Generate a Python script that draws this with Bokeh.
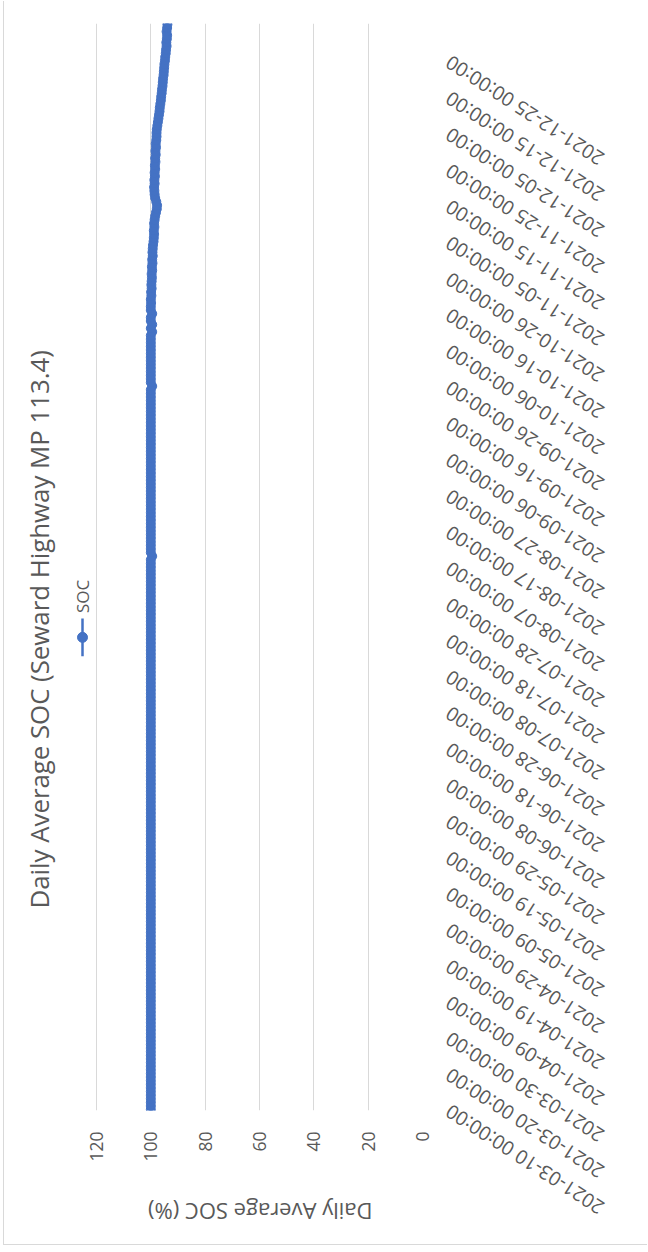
import math
import pandas as pd
from bokeh.plotting import figure
from bokeh.models import (Range1d, FixedTicker, DatetimeTickFormatter, Label,
                          LinearAxis)
from bokeh.embed import file_html
from bokeh.resources import INLINE

# ---------------- data ----------------
chart_title = "Daily Average SOC (Seward Highway MP 113.4)"
value_axis_title = "Daily Average SOC (%)"
series_name = "SOC"
first_day = "2021-03-10"

soc = [
    100, 100, 100, 100, 100, 100, 100, 100, 100, 100,
    100, 100, 100, 100, 100, 100, 100, 100, 100, 100,
    100, 100, 100, 100, 100, 100, 100, 100, 100, 100,
    100, 100, 100, 100, 100, 100, 100, 100, 100, 100,
    100, 100, 100, 100, 100, 100, 100, 100, 100, 100,
    100, 100, 100, 100, 100, 100, 100, 100, 100, 100,
    100, 100, 100, 100, 100, 100, 100, 100, 100, 100,
    100, 100, 100, 100, 100, 100, 100, 100, 100, 100,
    100, 100, 100, 100, 100, 100, 100, 100, 100, 100,
    100, 100, 100, 100, 100, 100, 100, 100, 100, 100,
    100, 100, 100, 100, 100, 100, 100, 100, 100, 100,
    100, 100, 100, 100, 100, 100, 100, 100, 100, 100,
    100, 100, 100, 100, 100, 100, 100, 100, 100, 100,
    100, 100, 100, 100, 100, 100, 100, 100, 100, 100,
    100, 100, 100, 100, 100, 100, 100, 100, 100, 100,
    100, 100, 100, 99.5, 100, 100, 100, 100, 100, 100,
    100, 100, 100, 100, 100, 100, 100, 100, 100, 100,
    100, 100, 100, 100, 100, 100, 100, 100, 100, 100,
    100, 100, 100, 100, 100, 100, 100, 100, 100, 100,
    100, 100, 100, 100, 100, 100, 100, 100, 100, 100,
    99.5, 100, 100, 100, 100, 100, 100, 100, 100, 100,
    100, 100, 100, 100, 100, 99.5, 100, 99.5, 100, 100,
    99.5, 100, 100, 99.9, 100, 99.8, 99.9, 99.7, 99.8, 99.7,
    99.6, 99.7, 99.5, 99.6, 99.4, 99.5, 99.3, 99.4, 99.3, 99.2,
    99.0, 98.9, 98.8, 98.9, 98.7, 98.8, 98.6, 98.4, 98.1, 97.8,
    97.7, 98.0, 98.4, 98.6, 98.7, 98.8, 98.6, 98.7, 98.5, 98.6,
    98.4, 98.5, 98.3, 98.4, 98.2, 98.3, 98.1, 98.2, 98.0, 97.9,
    97.9, 97.8, 97.6, 97.4, 97.2, 97.0, 96.8, 96.7, 96.5, 96.3,
    96.2, 96.0, 95.9, 95.7, 95.6, 95.5, 95.3, 95.2, 95.1, 95.0,
    94.8, 94.7, 94.5, 94.4, 94.2, 94.3, 94.1, 94.0, 94.2, 94.0,
    93.9,
]

date_tick_labels = [
    "2021-03-10", "2021-03-20", "2021-03-30", "2021-04-09", "2021-04-19",
    "2021-04-29", "2021-05-09", "2021-05-19", "2021-05-29", "2021-06-08",
    "2021-06-18", "2021-06-28", "2021-07-08", "2021-07-18", "2021-07-28",
    "2021-08-07", "2021-08-17", "2021-08-27", "2021-09-06", "2021-09-16",
    "2021-09-26", "2021-10-06", "2021-10-16", "2021-10-26", "2021-11-05",
    "2021-11-15", "2021-11-25", "2021-12-05", "2021-12-15", "2021-12-25",
]
value_ticks = [0, 20, 40, 60, 80, 100, 120]

# ---------------- layout (page pixels) ----------------
OX = 4                                   # figure's left offset on the page
W, H = 648 - OX, 1244
FL, FR, FT, FB = 60, 422, 23, 1112       # plot frame edges (page px)
X120 = 96                                # page px of value 120
LABEL_END_X = 447                        # page px where date labels end
AXIS_TITLE_LEFT = 147                    # page px where the value-axis title ends
BLUE = "#4472C4"
GREY_TXT = "#595959"
GRID = "#D9D9D9"
FONT = "Open Sans"

DAY = 86400000.0
dates = pd.date_range(first_day, periods=len(soc), freq="D")
ms = [d.value / 1e6 for d in dates]
tick_ms = [pd.Timestamp(t).value / 1e6 for t in date_tick_labels]

ppu = (FR - X120) / max(value_ticks)
x_start = (FR - FL) / ppu
y_start = ms[0] - 0.25 * DAY
y_end = ms[-1] + 0.25 * DAY


def xv(px):
    return (FR - px) / ppu


def yv(py):
    return y_start + (FB - py) / (FB - FT) * (y_end - y_start)


p = figure(width=W, height=H, output_backend="svg", toolbar_location=None,
           x_range=Range1d(x_start, 0), y_range=Range1d(y_start, y_end),
           y_axis_type="datetime", y_axis_location="left",
           title=chart_title, title_location="left",
           min_border_left=FL - OX, min_border_right=W - (FR - OX),
           min_border_top=FT, min_border_bottom=H - FB)
p.styles = {"margin-left": f"{OX}px", "box-shadow": f"-1px 1px 0 0 {GRID}"}
p.outline_line_color = None
p.background_fill_color = "white"
p.border_fill_color = "white"

# title
p.title.text_font = FONT
p.title.text_font_size = "25.8px"
p.title.text_font_style = "normal"
p.title.text_color = GREY_TXT
p.title.align = "left"
p.title.offset = FB - 910
p.title.standoff = 8

# value axis (bottom)
xa = p.xaxis[0]
xa.ticker = FixedTicker(ticks=value_ticks)
xa.bounds = (0, 120)
xa.major_label_orientation = math.pi / 2
xa.major_tick_line_color = None
xa.major_tick_out = 0
xa.major_tick_in = 0
xa.minor_tick_line_color = None
xa.axis_line_color = None
xa.major_label_standoff = 21
xa.major_label_text_font = FONT
xa.major_label_text_font_size = "17.5px"
xa.major_label_text_color = GREY_TXT

# value-axis title, upside down like the rest of the rotated chart
title_tick = round(xv(AXIS_TITLE_LEFT))
ta = LinearAxis(ticker=FixedTicker(ticks=[title_tick]),
                major_label_overrides={title_tick: value_axis_title},
                major_label_orientation=math.pi,
                major_tick_line_color=None, major_tick_out=0, major_tick_in=0,
                minor_tick_line_color=None, axis_line_color=None,
                major_label_standoff=47,
                major_label_text_font=FONT, major_label_text_font_size="22px",
                major_label_text_color=GREY_TXT)
p.add_layout(ta, "below")

p.xgrid.ticker = FixedTicker(ticks=value_ticks)
p.xgrid.grid_line_color = GRID
p.ygrid.visible = False

# category/date axis: labels sit right of the plot, ending next to it
ya = p.yaxis[0]
ya.ticker = FixedTicker(ticks=tick_ms)
fmt = "%Y-%m-%d %H:%M:%S"
ya.formatter = DatetimeTickFormatter(
    microseconds=fmt, milliseconds=fmt, seconds=fmt, minsec=fmt, minutes=fmt,
    hourmin=fmt, hours=fmt, days=fmt, months=fmt, years=fmt)
ya.major_label_orientation = math.radians(147)
ya.major_tick_line_color = None
ya.major_tick_out = 0
ya.major_tick_in = 0
ya.minor_tick_line_color = None
ya.axis_line_color = None
ya.major_label_standoff = -(LABEL_END_X - FL)
ya.major_label_text_font = FONT
ya.major_label_text_font_size = "19.5px"
ya.major_label_text_color = GREY_TXT

# series
p.line(x=soc, y=ms, line_color=BLUE, line_width=2.5)
p.scatter(x=soc, y=ms, size=9, fill_color=BLUE, line_color=BLUE)

# legend key (rotated, drawn manually)
p.line(x=[xv(82), xv(82)], y=[yv(619), yv(657)], line_color=BLUE, line_width=2.5)
p.scatter(x=[xv(82)], y=[yv(638)], size=10, fill_color=BLUE, line_color=BLUE)
p.add_layout(Label(x=xv(82), y=yv(597), text=series_name, angle=math.pi / 2,
                   text_align="center", text_baseline="middle",
                   text_font=FONT, text_font_size="17px",
                   text_color=GREY_TXT))

open("out.html", "w").write(file_html(p, INLINE))
